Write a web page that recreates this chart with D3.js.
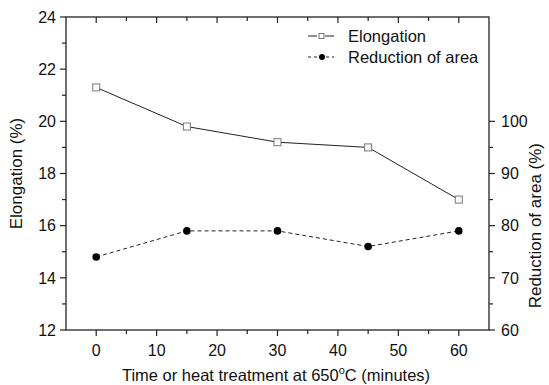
<!DOCTYPE html>
<html>
<head>
<meta charset="utf-8">
<script src="https://cdn.jsdelivr.net/npm/d3@7"></script>
<style>
body { margin: 0; background: #fff; }
svg text { font-family: Arial, "Liberation Sans", sans-serif; fill: #111; }
</style>
</head>
<body>
<svg id="chart" width="549" height="385"></svg>
<script>
// data

let minutes = [0, 15, 30, 45, 60];
let elongation = [21.3, 19.8, 19.2, 19.0, 17.0];
let reduction = [74, 79, 79, 76, 79];

let xTicks = [0, 10, 20, 30, 40, 50, 60];
let leftTicks = [12, 14, 16, 18, 20, 22, 24];
let rightTicks = [60, 70, 80, 90, 100];

// layout

let svg = d3.select('#chart');
let m = { left: 66, right: 489, top: 17, bottom: 330 };

let x = d3.scaleLinear().domain([-5, 65]).range([m.left, m.right]);
let yL = d3.scaleLinear().domain([12, 24]).range([m.bottom, m.top]);
let yR = d3.scaleLinear().domain([60, 120]).range([m.bottom, m.top]);

let axisColor = '#222';
let tickFont = '16px';
let titleFont = '16.5px';

// frame
svg.append('rect')
    .attr('x', m.left)
    .attr('y', m.top)
    .attr('width', m.right - m.left)
    .attr('height', m.bottom - m.top)
    .attr('fill', 'none')
    .attr('stroke', axisColor)
    .attr('stroke-width', 1.3);

// ticks
function tickLines(g, data, pos, len, horiz) {
    g.selectAll(null)
        .data(data)
        .enter()
        .append('line')
        .attr('x1', d => horiz ? pos(d) : 0)
        .attr('x2', d => horiz ? pos(d) : len)
        .attr('y1', d => horiz ? 0 : pos(d))
        .attr('y2', d => horiz ? len : pos(d))
        .attr('stroke', axisColor)
        .attr('stroke-width', 1.2);
}

let xMinor = d3.range(-5, 66, 5).filter(d => d > -5 && d < 65 && d % 10 != 0);
let leftMinor = d3.range(13, 24, 2);
let rightMinor = d3.range(65, 100, 10);

let bottomAxis = svg.append('g').attr('transform', `translate(0,${m.bottom})`);
tickLines(bottomAxis, xTicks, x, 6, true);
tickLines(bottomAxis, xMinor, x, 4, true);
bottomAxis.selectAll('text')
    .data(xTicks)
    .enter()
    .append('text')
    .attr('x', d => x(d))
    .attr('y', 26)
    .attr('text-anchor', 'middle')
    .style('font-size', tickFont)
    .text(d => d);

let topAxis = svg.append('g').attr('transform', `translate(0,${m.top})`);
tickLines(topAxis, xTicks, x, 6, true);
tickLines(topAxis, xMinor, x, 4, true);

let leftAxis = svg.append('g').attr('transform', `translate(${m.left},0)`);
tickLines(leftAxis, leftTicks, yL, -6, false);
tickLines(leftAxis, leftMinor, yL, -4, false);
leftAxis.selectAll('text')
    .data(leftTicks)
    .enter()
    .append('text')
    .attr('x', -10)
    .attr('y', d => yL(d))
    .attr('dy', '0.36em')
    .attr('text-anchor', 'end')
    .style('font-size', tickFont)
    .text(d => d);

let rightAxis = svg.append('g').attr('transform', `translate(${m.right},0)`);
tickLines(rightAxis, rightTicks, yR, 6, false);
tickLines(rightAxis, rightMinor, yR, 4, false);
rightAxis.selectAll('text')
    .data(rightTicks)
    .enter()
    .append('text')
    .attr('x', 12)
    .attr('y', d => yR(d))
    .attr('dy', '0.36em')
    .style('font-size', tickFont)
    .text(d => d);

// axis titles
let xTitle = svg.append('text')
    .attr('x', 276)
    .attr('y', 381)
    .attr('text-anchor', 'middle')
    .style('font-size', titleFont);
xTitle.append('tspan').text('Time or heat treatment at 650');
xTitle.append('tspan').attr('dy', -7).style('font-size', '11px').text('o');
xTitle.append('tspan').attr('dy', 7).text('C (minutes)');

svg.append('text')
    .attr('transform', `translate(22,${(m.top + m.bottom) / 2}) rotate(-90)`)
    .attr('text-anchor', 'middle')
    .style('font-size', '17px')
    .text('Elongation (%)');

svg.append('text')
    .attr('transform', `translate(541,${(yR(60) + yR(100)) / 2}) rotate(-90)`)
    .attr('text-anchor', 'middle')
    .style('font-size', '17px')
    .text('Reduction of area (%)');

// series
let elongLine = d3.line().x((d, i) => x(minutes[i])).y(d => yL(d));
let redLine = d3.line().x((d, i) => x(minutes[i])).y(d => yR(d));

svg.append('path')
    .datum(elongation)
    .attr('d', elongLine)
    .attr('fill', 'none')
    .attr('stroke', '#222')
    .attr('stroke-width', 1);

svg.append('path')
    .datum(reduction)
    .attr('d', redLine)
    .attr('fill', 'none')
    .attr('stroke', '#222')
    .attr('stroke-width', 1)
    .attr('stroke-dasharray', '4,3');

svg.selectAll('.sq')
    .data(elongation)
    .enter()
    .append('rect')
    .classed('sq', 1)
    .attr('x', (d, i) => x(minutes[i]) - 3.5)
    .attr('y', d => yL(d) - 3.5)
    .attr('width', 7)
    .attr('height', 7)
    .attr('fill', '#fff')
    .attr('stroke', '#777')
    .attr('stroke-width', 1);

svg.selectAll('.dot')
    .data(reduction)
    .enter()
    .append('circle')
    .classed('dot', 1)
    .attr('cx', (d, i) => x(minutes[i]))
    .attr('cy', d => yR(d))
    .attr('r', 3.8)
    .attr('fill', '#000');

// legend
let legend = svg.append('g').attr('transform', 'translate(308,36)');

legend.append('line')
    .attr('x1', 0).attr('x2', 9).attr('y1', 0).attr('y2', 0)
    .attr('stroke', '#222');
legend.append('line')
    .attr('x1', 17).attr('x2', 26).attr('y1', 0).attr('y2', 0)
    .attr('stroke', '#222');
legend.append('rect')
    .attr('x', 11).attr('y', -2.5).attr('width', 5).attr('height', 5)
    .attr('fill', '#fff').attr('stroke', '#777');
legend.append('text')
    .attr('x', 40).attr('y', 0).attr('dy', '0.36em')
    .style('font-size', titleFont)
    .text('Elongation');

legend.append('line')
    .attr('x1', 0).attr('x2', 26).attr('y1', 21).attr('y2', 21)
    .attr('stroke', '#222')
    .attr('stroke-dasharray', '3,3');
legend.append('circle')
    .attr('cx', 14).attr('cy', 21).attr('r', 3)
    .attr('fill', '#000');
legend.append('text')
    .attr('x', 40).attr('y', 21).attr('dy', '0.36em')
    .style('font-size', titleFont)
    .text('Reduction of area');
</script>
</body>
</html>
